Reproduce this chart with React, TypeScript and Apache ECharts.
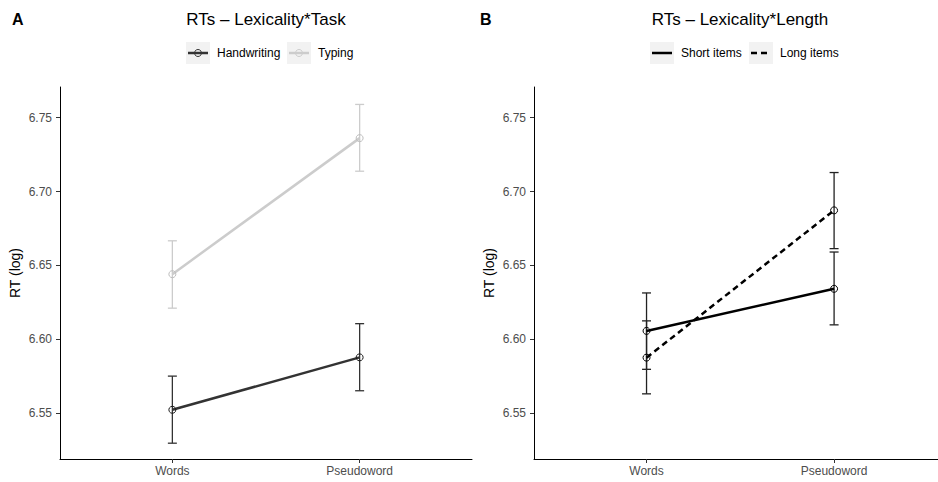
import React, { useEffect, useRef } from "react";
import * as echarts from "echarts";

const categories = ["Words", "Pseudoword"];
const yTicks = [6.55, 6.6, 6.65, 6.7, 6.75];

// Panel A: Lexicality * Task
const handwritingMean = [6.5523, 6.5878];
const handwritingLow = [6.5297, 6.5652];
const handwritingHigh = [6.5751, 6.6106];
const typingMean = [6.6441, 6.7362];
const typingLow = [6.6211, 6.7138];
const typingHigh = [6.6667, 6.759];

// Panel B: Lexicality * Length
const shortMean = [6.6057, 6.6342];
const shortLow = [6.5797, 6.6098];
const shortHigh = [6.6314, 6.6591];
const longMean = [6.5876, 6.6873];
const longLow = [6.5631, 6.6614];
const longHigh = [6.6125, 6.7129];

const FONT = "'Liberation Sans', Arial, Helvetica, sans-serif";

const pts = (vals: number[]) => categories.map((_, i) => [i + 1, vals[i]]);
const errs = (lo: number[], hi: number[]) => categories.map((_, i) => [i + 1, lo[i], hi[i]]);

function errorSeries(gridIdx: number, lo: number[], hi: number[], color: string, width: number) {
  return {
    type: "custom",
    xAxisIndex: gridIdx,
    yAxisIndex: gridIdx,
    data: errs(lo, hi),
    z: 3,
    renderItem: (params: any, api: any) => {
      const x = api.value(0);
      const a = api.coord([x, api.value(1)]);
      const b = api.coord([x, api.value(2)]);
      const hw = 4.5;
      const style = { stroke: color, lineWidth: width, fill: "none" };
      return {
        type: "group",
        children: [
          { type: "line", shape: { x1: a[0], y1: a[1], x2: b[0], y2: b[1] }, style },
          { type: "line", shape: { x1: a[0] - hw, y1: a[1], x2: a[0] + hw, y2: a[1] }, style },
          { type: "line", shape: { x1: b[0] - hw, y1: b[1], x2: b[0] + hw, y2: b[1] }, style },
        ],
      };
    },
  };
}

function lineSeries(gridIdx: number, name: string, vals: number[], color: string, ptColor: string, dashed: boolean) {
  return {
    type: "line",
    name,
    xAxisIndex: gridIdx,
    yAxisIndex: gridIdx,
    data: pts(vals),
    z: 4,
    symbol: "circle",
    symbolSize: 7,
    lineStyle: { color, width: 2.5, type: dashed ? [6, 4] : "solid" },
    itemStyle: { color: "rgba(0,0,0,0)", borderColor: ptColor, borderWidth: 1 },
  };
}

function xAxis(gridIndex: number, max: number) {
  return {
    type: "value",
    gridIndex,
    min: 0.4,
    max,
    splitLine: { show: false },
    axisLine: { show: true, lineStyle: { color: "#000", width: 1 } },
    axisTick: { show: true, customValues: [1, 2], length: 4, lineStyle: { color: "#333" } },
    axisLabel: {
      customValues: [1, 2],
      formatter: (v: number) => categories[Math.round(v) - 1] ?? "",
      color: "#4d4d4d",
      fontSize: 12,
      fontFamily: FONT,
      margin: 6,
    },
  };
}

function yAxis(gridIndex: number) {
  return {
    type: "value",
    gridIndex,
    min: 6.519,
    max: 6.7708,
    name: "RT (log)",
    nameLocation: "middle",
    nameGap: 38,
    nameRotate: 90,
    nameTextStyle: { color: "#000", fontSize: 14, fontFamily: FONT },
    splitLine: { show: false },
    axisLine: { show: true, lineStyle: { color: "#000", width: 1 } },
    axisTick: { show: true, customValues: yTicks, length: 4, lineStyle: { color: "#333" } },
    axisLabel: {
      customValues: yTicks,
      formatter: (v: number) => v.toFixed(2),
      color: "#4d4d4d",
      fontSize: 12,
      fontFamily: FONT,
      margin: 8,
    },
  };
}

function legendKey(x: number, color: string, dashed: boolean, circle: boolean) {
  const children: any[] = [
    { type: "rect", shape: { x, y: 42, width: 24, height: 22 }, style: { fill: "#f2f2f2" } },
    {
      type: "line",
      shape: { x1: x + 2, y1: 53, x2: x + 22, y2: 53 },
      style: { stroke: color, lineWidth: 2.5, lineDash: dashed ? [6, 4] : null },
    },
  ];
  if (circle) {
    children.push({ type: "circle", shape: { cx: x + 12, cy: 53, r: 3.5 }, style: { stroke: color, fill: "none", lineWidth: 1 } });
  }
  return children;
}

function txt(x: number, y: number, text: string, size: number, align: string, bold = false) {
  return {
    type: "text",
    x,
    y,
    style: {
      text,
      fill: "#000",
      font: `${bold ? "bold " : ""}${size}px ${FONT}`,
      textAlign: align,
      textVerticalAlign: "middle",
    },
  };
}

export default function App() {
  const ref = useRef<HTMLDivElement>(null);
  useEffect(() => {
    document.body.style.margin = "0";
    if (!ref.current) return;
    const chart = echarts.init(ref.current, undefined, { renderer: "svg" });
    chart.setOption({
      animation: false,
      backgroundColor: "#fff",
      grid: [
        { left: 60, right: 466, top: 87, bottom: 23 },
        { left: 534, right: 0, top: 87, bottom: 23 },
      ],
      xAxis: [xAxis(0, 2.6), xAxis(1, 2.554)],
      yAxis: [yAxis(0), yAxis(1)],
      series: [
        errorSeries(0, typingLow, typingHigh, "#cccccc", 1.3),
        errorSeries(0, handwritingLow, handwritingHigh, "#333333", 1.3),
        lineSeries(0, "Typing", typingMean, "#cccccc", "#bdbdbd", false),
        lineSeries(0, "Handwriting", handwritingMean, "#333333", "#1a1a1a", false),
        errorSeries(1, shortLow, shortHigh, "#222222", 1.3),
        errorSeries(1, longLow, longHigh, "#222222", 1.3),
        lineSeries(1, "Short items", shortMean, "#000000", "#000000", false),
        lineSeries(1, "Long items", longMean, "#000000", "#000000", true),
      ],
      graphic: [
        txt(12, 19, "A", 16, "left", true),
        txt(266, 19, "RTs – Lexicality*Task", 17, "center"),
        txt(480, 19, "B", 16, "left", true),
        txt(740, 19, "RTs – Lexicality*Length", 17, "center"),
        ...legendKey(186, "#333333", false, true),
        txt(217, 53, "Handwriting", 12, "left"),
        ...legendKey(287, "#cccccc", false, true),
        txt(318, 53, "Typing", 12, "left"),
        ...legendKey(650, "#000000", false, false),
        txt(681, 53, "Short items", 12, "left"),
        ...legendKey(749, "#000000", true, false),
        txt(780, 53, "Long items", 12, "left"),
      ],
    });
    return () => chart.dispose();
  }, []);
  return <div ref={ref} style={{ width: 938, height: 482 }} />;
}
